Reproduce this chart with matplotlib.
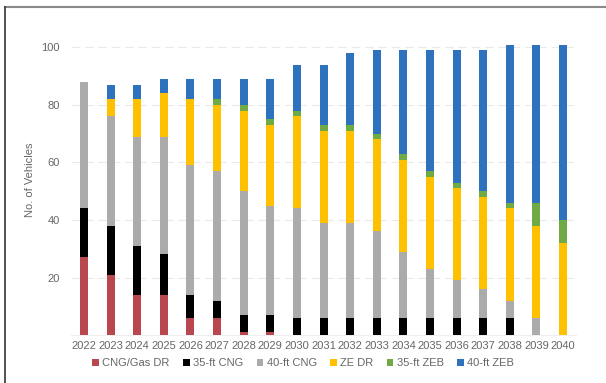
import matplotlib.pyplot as plt
from matplotlib.lines import Line2D
import numpy as np

years = [str(y) for y in range(2022, 2041)]

cng_gas_dr = [27, 21, 14, 14, 6, 6, 1, 1, 0, 0, 0, 0, 0, 0, 0, 0, 0, 0, 0]
cng_35ft = [17, 17, 17, 14, 8, 6, 6, 6, 6, 6, 6, 6, 6, 6, 6, 6, 6, 0, 0]
cng_40ft = [44, 38, 38, 41, 45, 45, 43, 38, 38, 33, 33, 30, 23, 17, 13, 10, 6, 6, 0]
ze_dr = [0, 6, 13, 15, 23, 23, 28, 28, 32, 32, 32, 32, 32, 32, 32, 32, 32, 32, 32]
zeb_35ft = [0, 0, 0, 0, 0, 2, 2, 2, 2, 2, 2, 2, 2, 2, 2, 2, 2, 8, 8]
zeb_40ft = [0, 5, 5, 5, 7, 7, 9, 14, 16, 21, 25, 29, 36, 42, 46, 49, 55, 55, 61]

series = [
    ('CNG/Gas DR', cng_gas_dr, '#B9474F'),
    ('35-ft CNG', cng_35ft, '#000000'),
    ('40-ft CNG', cng_40ft, '#ABABAB'),
    ('ZE DR', ze_dr, '#FFC000'),
    ('35-ft ZEB', zeb_35ft, '#6FAA45'),
    ('40-ft ZEB', zeb_40ft, '#2E72BD'),
]

plt.rcParams['font.family'] = ['Liberation Sans', 'DejaVu Sans']

fig = plt.figure(figsize=(6.06, 3.83), dpi=100)
ax = fig.add_axes([0.1167, 0.1253, 0.8343, 0.7658])

x = np.arange(len(years))
bottom = np.zeros(len(years))
for name, vals, color in series:
    ax.bar(x, vals, bottom=bottom, width=0.3, color=color, label=name, zorder=3)
    bottom += np.array(vals)

ax.set_xlim(-0.5, len(years) - 0.5)
ax.set_ylim(0, 102)
ax.set_xticks(x)
ax.set_xticklabels(years)
ax.set_yticks([20, 40, 60, 80, 100])
ax.tick_params(axis='both', length=0, labelsize=8, colors='#666666', pad=4)
ax.tick_params(axis='y', pad=8)
ax.grid(axis='y', color='#EAEAEA', linestyle=(0, (8, 4)), linewidth=0.8, zorder=0)
for s in ['top', 'right', 'left']:
    ax.spines[s].set_visible(False)
ax.spines['bottom'].set_color('#EEEEEE')

fig.text(30 / 606, 1 - 180 / 383, 'No. of Vehicles', rotation=90, ha='center', va='center',
         fontsize=8, color='#666666')

fig.legend(loc='center', bbox_to_anchor=(303 / 606, 1 - 363 / 383), ncol=6, frameon=False,
           fontsize=8, labelcolor='#666666', handlelength=0.6, handleheight=0.6,
           handletextpad=0.3, columnspacing=1.2)

# screenshot frame (top and left edges)
fig.add_artist(Line2D([5 / 606, 1], [1 - 7 / 383, 1 - 7 / 383], color='#8A8A8A', lw=1.5))
fig.add_artist(Line2D([5 / 606, 5 / 606], [0, 1 - 7 / 383], color='#333333', lw=1.2))

fig.savefig('out.png', dpi=100)
